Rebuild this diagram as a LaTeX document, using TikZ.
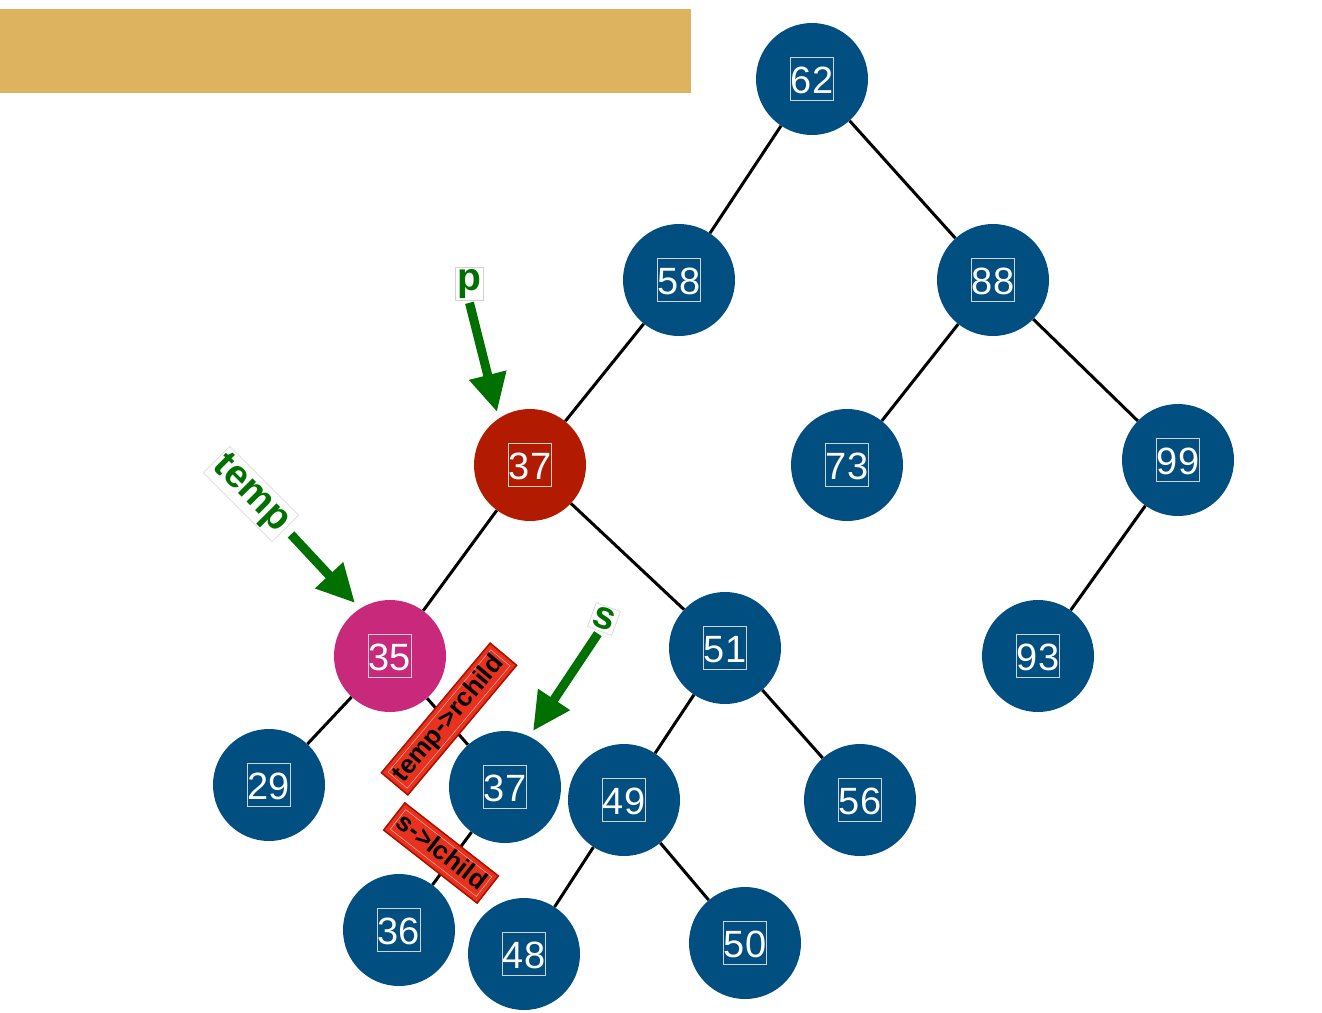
\documentclass[tikz,border=0pt]{standalone}
\usepackage{fontspec}
\setmainfont{Liberation Sans}
\usetikzlibrary{arrows.meta}
\definecolor{tblue}{HTML}{004F80}
\definecolor{tred}{HTML}{B31B00}
\definecolor{tpink}{HTML}{C8297A}
\definecolor{tgold}{HTML}{DEB35F}
\definecolor{tgreen}{HTML}{007000}
\definecolor{rfill}{HTML}{E6321E}
\definecolor{rdark}{HTML}{B01000}
\definecolor{rline}{HTML}{F5A090}
\begin{document}
\begin{tikzpicture}[x=1pt,y=-1pt,
 tnode/.style={circle, minimum size=112pt, inner sep=0pt, fill=tblue},
 num/.style={draw=white!65!gray, line width=0.6pt, text=white, font=\fontsize{38}{42}\selectfont, inner xsep=0.3pt, inner ysep=0.5pt, text height=35pt, text depth=6.5pt},
 edge/.style={line width=3pt, black},
 glab/.style={draw=gray!35, line width=0.6pt, fill=white, text=tgreen, font=\fontsize{39}{42}\selectfont\bfseries, inner sep=2pt},
 garrow/.style={line width=9pt, tgreen, -{Triangle[width=36pt,length=38pt]}},
 rlab/.style={preaction={draw=rdark,line width=11pt}, preaction={draw=rfill, line width=7.5pt}, fill=rfill, draw=rline, line width=0.6pt, text=black, font=\fontsize{26}{28}\selectfont\bfseries, inner xsep=1.5pt, inner ysep=0.5pt, text height=19pt, text depth=5pt}
]
\useasboundingbox (0,0) rectangle (1322,1012);
\fill[tgold] (0,9) rectangle (691,93);

% tree nodes
\node[tnode] (n62) at (812,79) {};
\node[tnode] (n58) at (679,280) {};
\node[tnode] (n88) at (993,280) {};
\node[tnode, fill=tred] (n37r) at (530,465) {};
\node[tnode] (n73) at (847,465) {};
\node[tnode] (n99) at (1178,460) {};
\node[tnode, fill=tpink] (n35) at (390,656) {};
\node[tnode] (n51) at (725,648) {};
\node[tnode] (n93) at (1038,656) {};
\node[tnode] (n29) at (269,785) {};
\node[tnode] (n37b) at (505,787) {};
\node[tnode] (n49) at (624,800) {};
\node[tnode] (n56) at (860,800) {};
\node[tnode] (n36) at (399,930) {};
\node[tnode] (n48) at (524,954) {};
\node[tnode] (n50) at (745,943) {};

% numbers
\node[num] (t62) at (n62) {62};
\node[num] (t58) at (n58) {58};
\node[num] (t88) at (n88) {88};
\node[num] (t37r) at (n37r) {37};
\node[num] (t73) at (n73) {73};
\node[num] (t99) at (n99) {99};
\node[num] (t35) at (n35) {35};
\node[num] (t51) at (n51) {51};
\node[num] (t93) at (n93) {93};
\node[num] (t29) at (n29) {29};
\node[num] (t37b) at (n37b) {37};
\node[num] (t49) at (n49) {49};
\node[num] (t56) at (n56) {56};
\node[num] (t36) at (n36) {36};
\node[num] (t48) at (n48) {48};
\node[num] (t50) at (n50) {50};

% edges
\draw[edge] (n62) -- (n58);
\draw[edge] (n62) -- (n88);
\draw[edge] (n58) -- (n37r);
\draw[edge] (n88) -- (n73);
\draw[edge] (n88) -- (n99);
\draw[edge] (n37r) -- (n35);
\draw[edge] (n37r) -- (n51);
\draw[edge] (n99) -- (n93);
\draw[edge] (n35) -- (n29);
\draw[edge] (n35) -- (n37b);
\draw[edge] (n51) -- (n49);
\draw[edge] (n51) -- (n56);
\draw[edge] (n37b) -- (n36);
\draw[edge] (n49) -- (n48);
\draw[edge] (n49) -- (n50);

% red labels
\node[rlab, rotate=50] (rl1) at (449,719) {temp->rchild};
\node[rlab, rotate=-38] (rl2) at (441,853) {s->lchild};

% green pointer labels
\node[glab] (plab) at (469,284) {p};
\node[glab, rotate=-45] (templab) at (251,494) {temp};
\node[glab, rotate=-20] (slab) at (604,619) {s};

\coordinate (ptip) at (497,412);
\coordinate (temptip) at (355,603);
\coordinate (stip) at (533,731);

\draw[garrow, shorten <=2pt] (plab.south) -- (ptip);
\draw[garrow, shorten <=8pt] (templab.east) -- (temptip);
\draw[garrow, shorten <=3pt] (slab.south) -- (stip);
\end{tikzpicture}
\end{document}
